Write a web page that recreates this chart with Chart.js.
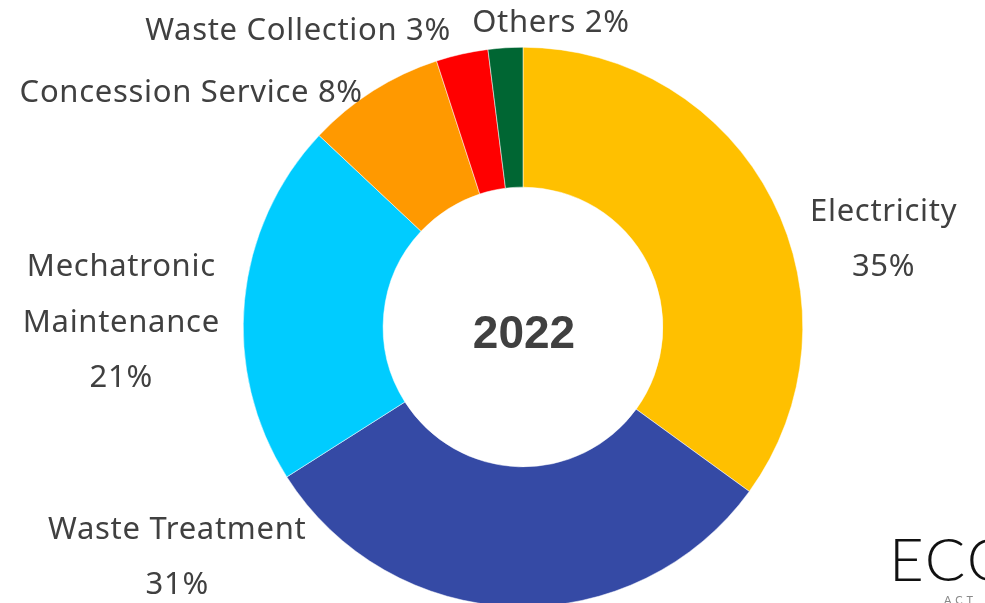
<!DOCTYPE html>
<html>
<head>
<meta charset="utf-8">
<script src="https://cdn.jsdelivr.net/npm/chart.js@4"></script>
<style>
  html, body { margin: 0; padding: 0; background: #fff; overflow: hidden; }
  #wrap { position: relative; width: 985px; height: 603px; overflow: hidden; }
  #logo { position: absolute; left: 889px; top: 522px; font-family: Lato, sans-serif; font-weight: 300; font-size: 60px; color: #111; letter-spacing: 2px; white-space: nowrap; }
  #logo2 { position: absolute; left: 944px; top: 593px; font-family: Lato, sans-serif; font-size: 11px; color: #888; letter-spacing: 4px; white-space: nowrap; }
</style>
</head>
<body>
<div id="wrap">
  <canvas id="donut" width="985" height="640"></canvas>
  <div id="logo">ECO</div>
  <div id="logo2">ACT</div>
</div>
<script>
const categories = ['Electricity', 'Waste Treatment', 'Mechatronic Maintenance', 'Concession Service', 'Waste Collection', 'Others'];
const shares = [35, 31, 21, 8, 3, 2];
const colors = ['#FFC000', '#354AA5', '#00CCFF', '#FF9900', '#FF0000', '#006633'];
const yearLabel = '2022';

// how each label is broken into lines, and whether the % sits on the same line
const labelLines = [['Electricity'], ['Waste Treatment'], ['Mechatronic', 'Maintenance'], ['Concession Service'], ['Waste Collection'], ['Others']];
const pctInline = [false, false, false, true, true, true];
// label block centre, as multiples of the outer radius from the chart centre
const labelAt = [[1.289, -0.312], [-1.236, 0.825], [-1.436, -0.014], [-1.186, -0.837], [-0.804, -1.059], [0.1, -1.087]];

const labelPlugin = {
  id: 'outerLabels',
  afterDraw(chart) {
    const ctx = chart.ctx;
    const arc = chart.getDatasetMeta(0).data[0];
    const cx = arc.x, cy = arc.y, R = arc.outerRadius;
    const lh = 55.5;
    ctx.save();
    ctx.fillStyle = '#404040';
    ctx.textAlign = 'center';
    ctx.textBaseline = 'middle';
    ctx.font = '31px "Noto Sans", sans-serif';
    ctx.letterSpacing = '0.7px';
    categories.forEach((c, i) => {
      let lines = labelLines[i].slice();
      if (pctInline[i]) lines[lines.length - 1] += ' ' + shares[i] + '%';
      else lines.push(shares[i] + '%');
      const bx = cx + labelAt[i][0] * R;
      const by = cy + labelAt[i][1] * R;
      const top = by - (lines.length - 1) * lh / 2;
      lines.forEach((t, k) => ctx.fillText(t, bx, top + k * lh));
    });
    ctx.letterSpacing = '0px';
    ctx.font = 'bold 46px "Liberation Sans", Arial, sans-serif';
    ctx.fillText(yearLabel, cx + 1, cy + 8);
    ctx.restore();
  }
};

new Chart(document.getElementById('donut').getContext('2d'), {
  type: 'doughnut',
  data: {
    labels: categories,
    datasets: [{
      data: shares,
      backgroundColor: colors,
      borderWidth: 0.5,
      borderColor: '#ffffff'
    }]
  },
  options: {
    responsive: false,
    animation: false,
    cutout: '50%',
    layout: { padding: { top: 47, bottom: 33, left: 243, right: 182 } },
    plugins: {
      legend: { display: false },
      tooltip: { enabled: false }
    }
  },
  plugins: [labelPlugin]
});
</script>
</body>
</html>
